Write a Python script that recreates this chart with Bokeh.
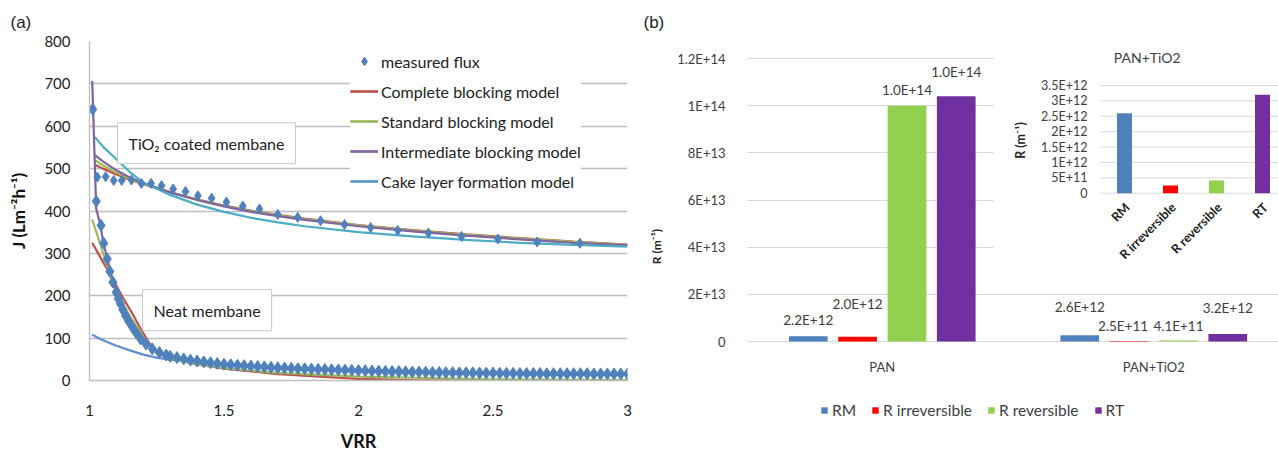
import math
from bokeh.plotting import figure
from bokeh.models import (ColumnDataSource, Range1d, FixedTicker, Legend, LegendItem, Label)
from bokeh.layouts import row
from bokeh.embed import file_html
from bokeh.resources import INLINE
from bokeh.core.properties import value

# ------------------------------------------------------------------ data (a)
tio2_flux_x = [1.029, 1.06, 1.09, 1.12, 1.156, 1.193, 1.229, 1.268, 1.311, 1.357,
               1.403, 1.454, 1.509, 1.57, 1.632, 1.70, 1.774, 1.859, 1.948, 2.045,
               2.146, 2.26, 2.383, 2.518, 2.664, 2.823]
tio2_flux_y = [480, 481, 472, 472, 473, 465, 465, 460, 452, 446,
               436, 430, 421, 412, 405, 392, 385, 377, 368, 361,
               354, 348, 340, 334, 327, 324]

neat_flux_x = [1.012, 1.025, 1.043, 1.053, 1.066, 1.076, 1.087, 1.099, 1.107, 1.115,
               1.124, 1.134, 1.146, 1.159, 1.174, 1.19, 1.21, 1.233, 1.26, 1.285,
               1.300, 1.325, 1.350, 1.375, 1.400, 1.425, 1.450, 1.475, 1.500, 1.525,
               1.550, 1.575, 1.600, 1.625, 1.650, 1.675, 1.700, 1.725, 1.750, 1.775,
               1.800, 1.825, 1.850, 1.875, 1.900, 1.925, 1.950, 1.975, 2.000, 2.025,
               2.050, 2.075, 2.100, 2.125, 2.150, 2.175, 2.200, 2.225, 2.250, 2.275,
               2.300, 2.325, 2.350, 2.375, 2.400, 2.425, 2.450, 2.475, 2.500, 2.525,
               2.550, 2.575, 2.600, 2.625, 2.650, 2.675, 2.700, 2.725, 2.750, 2.775,
               2.800, 2.825, 2.850, 2.875, 2.900, 2.925, 2.950, 2.975, 3.000]
neat_flux_y = [640, 423, 366, 324, 287, 257, 232, 208, 193, 181,
               167, 153, 139, 126, 112, 98, 86, 75, 66, 60,
               57, 54, 51, 48, 46, 44, 42, 40, 38.5, 37,
               36, 35, 34, 33, 32, 31, 30, 29.5, 29, 28,
               27.5, 27, 26.5, 26, 25.5, 25, 24.5, 24, 23.5, 23,
               22.5, 22, 21.5, 21, 21, 20.5, 20, 20, 19.5, 19,
               19, 18.5, 18.5, 18, 18, 18, 17.5, 17.5, 17.5, 17,
               17, 17, 16.5, 16.5, 16.5, 16.5, 16, 16, 16, 16,
               16, 16, 16, 15.5, 15.5, 15.5, 15.5, 15.5, 15.5]

tio2_model_x = [1.02, 1.05, 1.1, 1.15, 1.2, 1.3, 1.4, 1.5, 1.6, 1.7, 1.8, 2.0, 2.2, 2.4, 2.6, 2.8, 3.0]
tio2_complete = [509, 500, 486, 474, 463, 444, 427, 413, 401, 391, 382, 367, 355, 345, 336, 328, 321]
tio2_standard = [520, 508, 490, 476, 464, 444, 427, 412, 400, 390, 381, 366, 354, 344, 335, 327, 320]
tio2_intermediate = [532, 517, 496, 479, 466, 444, 426, 411, 398, 388, 379, 364, 352, 342, 333, 325, 319]
tio2_cake = [575, 552, 522, 492, 467, 438, 415, 398, 384, 373, 364, 350, 340, 332, 325, 320, 316]

neat_intermediate_x = [1.01, 1.025, 1.04, 1.05, 1.065, 1.08, 1.1, 1.12, 1.15, 1.2, 1.25, 1.3, 1.4, 1.5, 1.7, 2.0, 2.5, 3.0]
neat_intermediate_y = [707, 405, 368, 330, 290, 252, 208, 176, 138, 94, 70, 57, 45, 38, 29, 22, 16, 13]
neat_standard_x = [1.01, 1.04, 1.06, 1.085, 1.1, 1.15, 1.2, 1.24, 1.3, 1.4, 1.5, 1.7, 2.0, 2.5, 3.0]
neat_standard_y = [380, 322, 282, 234, 210, 152, 103, 68, 52, 38, 29, 18, 9, 3, 1]
neat_complete_x = [1.01, 1.05, 1.09, 1.12, 1.153, 1.19, 1.227, 1.25, 1.3, 1.4, 1.5, 1.7, 2.0, 2.2, 3.0]
neat_complete_y = [325, 280, 236, 200, 165, 122, 83, 66, 52, 38, 28, 15, 4, 1, 0]
neat_cake_x = [1.01, 1.05, 1.1, 1.15, 1.2, 1.25, 1.3, 1.4, 1.5, 1.7, 2.0, 2.5, 3.0]
neat_cake_y = [108, 95, 82, 71, 61, 54, 49, 42, 36, 28, 22, 16, 13]

x_ticks_a = [1, 1.5, 2, 2.5, 3]
x_tick_labels_a = ["1", "1.5", "2", "2.5", "3"]
y_ticks_a = [0, 100, 200, 300, 400, 500, 600, 700, 800]

# ------------------------------------------------------------------ data (b)
categories = ["PAN", "PAN+TiO2"]
series = ["RM", "R irreversible", "R reversible", "RT"]
rm = [2.2e12, 2.6e12]
r_irreversible = [2.0e12, 2.5e11]
r_reversible = [1.0e14, 4.1e11]
rt = [1.04e14, 3.2e12]
y_ticks_b = [0, 2e13, 4e13, 6e13, 8e13, 1e14, 1.2e14]
y_tick_labels_b = ["0", "2E+13", "4E+13", "6E+13", "8E+13", "1E+14", "1.2E+14"]
inset_title = "PAN+TiO2"
inset_ticks = [0, 5e11, 1e12, 1.5e12, 2e12, 2.5e12, 3e12, 3.5e12]
inset_tick_labels = ["0", "5E+11", "1E+12", "1.5E+12", "2E+12", "2.5E+12", "3E+12", "3.5E+12"]

# ------------------------------------------------------------------ styles
FONT = "Lato"
C_FLUX = "#4F81BD"
C_COMPLETE = "#C0504D"
C_STANDARD = "#9BBB59"
C_INTER = "#8064A2"
C_CAKE = "#4BACC6"
C_CAKE_NEAT = "#5B8FD0"
BAR_COLORS = ["#4F81BD", "#FF0000", "#92D050", "#7030A0"]

# ================================================================== panel (a)
pa = figure(width=640, height=451, frame_width=538, frame_height=339,
            x_range=Range1d(1, 3), y_range=Range1d(0, 800),
            output_backend="svg", toolbar_location=None,
            min_border_left=89, min_border_right=13, min_border_top=41, min_border_bottom=71)
pa.outline_line_color = None
pa.background_fill_color = "white"
pa.border_fill_color = "white"
pa.xgrid.grid_line_color = None
pa.ygrid.ticker = FixedTicker(ticks=y_ticks_a)
pa.ygrid.grid_line_color = "#bdbdbd"
pa.ygrid.grid_line_width = 1.3

pa.title.text = "(a)"
pa.title.align = "left"
pa.title.offset = -79
pa.title.standoff = 20
pa.title.text_font = "Liberation Sans"
pa.title.text_font_style = "normal"
pa.title.text_font_size = "17px"
pa.title.text_color = "#222222"

pa.xaxis.ticker = FixedTicker(ticks=x_ticks_a)
pa.xaxis.major_label_overrides = {t: l for t, l in zip(x_ticks_a, x_tick_labels_a)}
pa.yaxis.ticker = FixedTicker(ticks=y_ticks_a)
for ax in (pa.xaxis[0], pa.yaxis[0]):
    ax.major_tick_line_color = None
    ax.minor_tick_line_color = None
    ax.axis_line_color = "#bdbdbd"
    ax.axis_line_width = 1.3
    ax.major_label_text_font = FONT
    ax.major_label_text_font_size = "15px"
    ax.major_label_text_color = "#222222"
    ax.axis_label_text_font = FONT
    ax.axis_label_text_font_style = "bold"
    ax.axis_label_text_color = "#111111"
pa.xaxis.major_label_standoff = 18
pa.yaxis.major_label_standoff = 13
pa.xaxis.axis_label = "VRR"
pa.xaxis.axis_label_text_font_size = "18px"
pa.xaxis.axis_label_standoff = 11
pa.yaxis.axis_label = "J (Lm\u207b\u00b2h\u207b\u00b9)"
pa.yaxis.axis_label_text_font_size = "17px"
pa.yaxis.axis_label_standoff = 12

lw = 2.2
rc1 = pa.line(tio2_model_x, tio2_complete, line_color=C_COMPLETE, line_width=lw)
rs1 = pa.line(tio2_model_x, tio2_standard, line_color=C_STANDARD, line_width=lw)
ri1 = pa.line(tio2_model_x, tio2_intermediate, line_color=C_INTER, line_width=lw)
rk1 = pa.line(tio2_model_x, tio2_cake, line_color=C_CAKE, line_width=lw)
rk2 = pa.line(neat_cake_x, neat_cake_y, line_color=C_CAKE_NEAT, line_width=lw)
rc2 = pa.line(neat_complete_x, neat_complete_y, line_color=C_COMPLETE, line_width=lw)
rs2 = pa.line(neat_standard_x, neat_standard_y, line_color=C_STANDARD, line_width=lw)
ri2 = pa.line(neat_intermediate_x, neat_intermediate_y, line_color=C_INTER, line_width=lw)
rf1 = pa.scatter(tio2_flux_x, tio2_flux_y, marker="diamond", size=10, fill_color=C_FLUX, line_color=C_FLUX)
rf2 = pa.scatter(neat_flux_x, neat_flux_y, marker="diamond", size=12, fill_color=C_FLUX, line_color=C_FLUX)

leg_a = Legend(items=[
    LegendItem(label="measured flux", renderers=[rf1, rf2]),
    LegendItem(label="Complete blocking model", renderers=[rc1, rc2]),
    LegendItem(label="Standard blocking model", renderers=[rs1, rs2]),
    LegendItem(label="Intermediate blocking model", renderers=[ri1, ri2]),
    LegendItem(label="Cake layer formation model", renderers=[rk1, rk2]),
], location=(261, 189))
leg_a.background_fill_color = "white"
leg_a.background_fill_alpha = 1.0
leg_a.border_line_color = None
leg_a.label_text_font = FONT
leg_a.label_text_font_size = "16px"
leg_a.label_text_color = "#222222"
leg_a.glyph_width = 28
leg_a.glyph_height = 20
leg_a.label_height = 20
leg_a.label_standoff = 3
leg_a.spacing = 10
leg_a.padding = 10
leg_a.margin = 0
pa.add_layout(leg_a)

for txt, xx, yy in [("TiO\u2082 coated membane", 1.104, 560), ("Neat membane", 1.197, 166)]:
    pa.add_layout(Label(x=xx, y=yy, text=txt, text_font=FONT, text_font_size="16px",
                        text_color="#222222", text_baseline="middle", text_align="left",
                        background_fill_color="white", border_line_color="#c8c8c8",
                        border_line_width=1, padding=11))

# ================================================================== panel (b)
# pixel geometry of the reference (layout only); the frame runs to the bottom edge
FR_L, FR_R, FR_T, FR_B = 746.0, 1278.0, 41.0, 451.0
Y0_PX, YTOP_PX = 341.0, 58.0           # pixel rows of 0 and 1.2E+14
PX_PER_CAT = 271.5
px_per_unit = (Y0_PX - YTOP_PX) / 1.2e14
x_end_b = (FR_R - FR_L) / PX_PER_CAT
y_start_b = -(FR_B - Y0_PX) / px_per_unit
y_end_b = (Y0_PX - FR_T) / px_per_unit

IN_X0, IN_DX = 1124.0, 46.0          # inset category 0 centre, spacing
IN_Y0, IN_PX_PER = 192.7, 107.7 / 3.5e12
in_x_start = (FR_L - IN_X0) / IN_DX
in_x_end = (FR_R - IN_X0) / IN_DX
in_y_start = -(FR_B - IN_Y0) / IN_PX_PER
in_y_end = (IN_Y0 - FR_T) / IN_PX_PER

pb = figure(width=638, height=451, frame_width=int(FR_R - FR_L), frame_height=int(FR_B - FR_T),
            x_range=Range1d(0, x_end_b), y_range=Range1d(y_start_b, y_end_b),
            output_backend="svg", toolbar_location=None,
            min_border_left=int(FR_L - 640), min_border_right=0,
            min_border_top=int(FR_T), min_border_bottom=0)
pb.outline_line_color = None
pb.border_fill_color = "white"
pb.extra_x_ranges = {"ix": Range1d(in_x_start, in_x_end)}
pb.extra_y_ranges = {"iy": Range1d(in_y_start, in_y_end)}

pb.title.text = "(b)"
pb.title.align = "left"
pb.title.offset = -103
pb.title.standoff = 20
pb.title.text_font = "Liberation Sans"
pb.title.text_font_style = "normal"
pb.title.text_font_size = "17px"
pb.title.text_color = "#222222"

pb.xgrid.grid_line_color = None
pb.ygrid.ticker = FixedTicker(ticks=y_ticks_b)
pb.ygrid.grid_line_color = "#d9d9d9"
pb.yaxis.ticker = FixedTicker(ticks=y_ticks_b)
pb.yaxis.major_label_overrides = {t: l for t, l in zip(y_ticks_b, y_tick_labels_b)}
pb.xaxis.visible = False
yax = pb.yaxis[0]
yax.major_tick_line_color = None
yax.minor_tick_line_color = None
yax.major_label_text_font = FONT
yax.major_label_text_font_size = "13px"
yax.major_label_text_color = "#404040"
yax.axis_line_color = None
yax.major_label_standoff = 15
yax.axis_label = "R (m\u207b\u00b9)"
yax.axis_label_text_font = FONT
yax.axis_label_text_font_style = "bold"
yax.axis_label_text_font_size = "12px"
yax.axis_label_text_color = "#222222"
yax.axis_label_standoff = 10

cat_centres = [0.5 + i for i in range(len(categories))]
pb.text(x=cat_centres, y=[0] * len(categories), text=categories, y_offset=25,
        text_align="center", text_baseline="middle", text_font=value(FONT),
        text_font_size="13px", text_color="#404040")

offsets = [-0.2725, -0.091, 0.091, 0.2725]
bar_w = 0.1425
values = [rm, r_irreversible, r_reversible, rt]
# label placement (screen px above bar top / horizontal shift)
lab_dy = [[16, 28], [33, 15], [16, 15], [24, 26]]
lab_dx = [[0, 0], [0, -6], [0, 0], [0, 0]]
bar_renderers = []
for s, (vals, col, off) in enumerate(zip(values, BAR_COLORS, offsets)):
    xs = [c + off for c in cat_centres]
    src = ColumnDataSource(dict(x=xs, top=vals,
                                lab=["%.1E" % v for v in vals],
                                dy=[-d for d in lab_dy[s]], dx=lab_dx[s]))
    r = pb.vbar(x="x", top="top", width=bar_w, bottom=0, source=src,
                fill_color=col, line_color=None)
    bar_renderers.append(r)
    pb.text(x="x", y="top", text="lab", x_offset="dx", y_offset="dy", source=src,
            text_align="center", text_baseline="middle", text_font=value(FONT),
            text_font_size="13.5px", text_color="#404040")

leg_b = Legend(items=[LegendItem(label=s, renderers=[r]) for s, r in zip(series, bar_renderers)],
               orientation="horizontal", location=(74, 32))
leg_b.border_line_color = None
leg_b.background_fill_alpha = 0
leg_b.label_text_font = FONT
leg_b.label_text_font_size = "15.5px"
leg_b.label_text_color = "#404040"
leg_b.glyph_width = 8
leg_b.glyph_height = 8
leg_b.label_standoff = 4
leg_b.spacing = 15
leg_b.padding = 2
leg_b.margin = 0
pb.add_layout(leg_b)

# ---- inset (drawn on extra ranges of the same figure)
cover_left = (993 - IN_X0) / IN_DX
cover_bottom = -(272 - IN_Y0) / IN_PX_PER
pb.quad(left=[cover_left], right=[in_x_end], bottom=[cover_bottom], top=[in_y_end],
        fill_color="white", line_color=None, x_range_name="ix", y_range_name="iy")
grid_x0 = (1100 - IN_X0) / IN_DX
pb.segment(x0=[grid_x0] * len(inset_ticks), x1=[in_x_end] * len(inset_ticks),
           y0=inset_ticks, y1=inset_ticks, line_color="#d9d9d9", line_width=1,
           x_range_name="ix", y_range_name="iy")
pb.text(x=[grid_x0] * len(inset_ticks), y=inset_ticks, text=inset_tick_labels,
        x_offset=-13, text_align="right", text_baseline="middle", text_font=value(FONT),
        text_font_size="12.5px", text_color="#404040", x_range_name="ix", y_range_name="iy")
inset_idx = list(range(len(series)))
inset_vals = [v[1] for v in values]
pb.vbar(x=inset_idx, top=inset_vals, width=15 / IN_DX, bottom=0, fill_color=BAR_COLORS,
        line_color=None, x_range_name="ix", y_range_name="iy")
pb.text(x=inset_idx, y=[0] * len(series), text=series, x_offset=3, y_offset=12,
        angle=math.pi / 4, text_align="right", text_baseline="middle", text_font=value(FONT),
        text_font_style="bold", text_font_size="12.5px", text_color="#222222",
        x_range_name="ix", y_range_name="iy")
pb.text(x=[(1146.7 - IN_X0) / IN_DX], y=[(IN_Y0 - 57) / IN_PX_PER], text=[inset_title],
        text_align="center", text_baseline="middle", text_font=value(FONT),
        text_font_size="14px", text_color="#404040", x_range_name="ix", y_range_name="iy")
pb.text(x=[(1020 - IN_X0) / IN_DX], y=[(IN_Y0 - 140) / IN_PX_PER], text=["R (m\u207b\u00b9)"],
        angle=math.pi / 2, text_align="center", text_baseline="middle", text_font=value(FONT),
        text_font_style="bold", text_font_size="12.5px", text_color="#222222",
        x_range_name="ix", y_range_name="iy")

layout = row(pa, pb, spacing=0)
open("out.html", "w").write(file_html(layout, INLINE))
